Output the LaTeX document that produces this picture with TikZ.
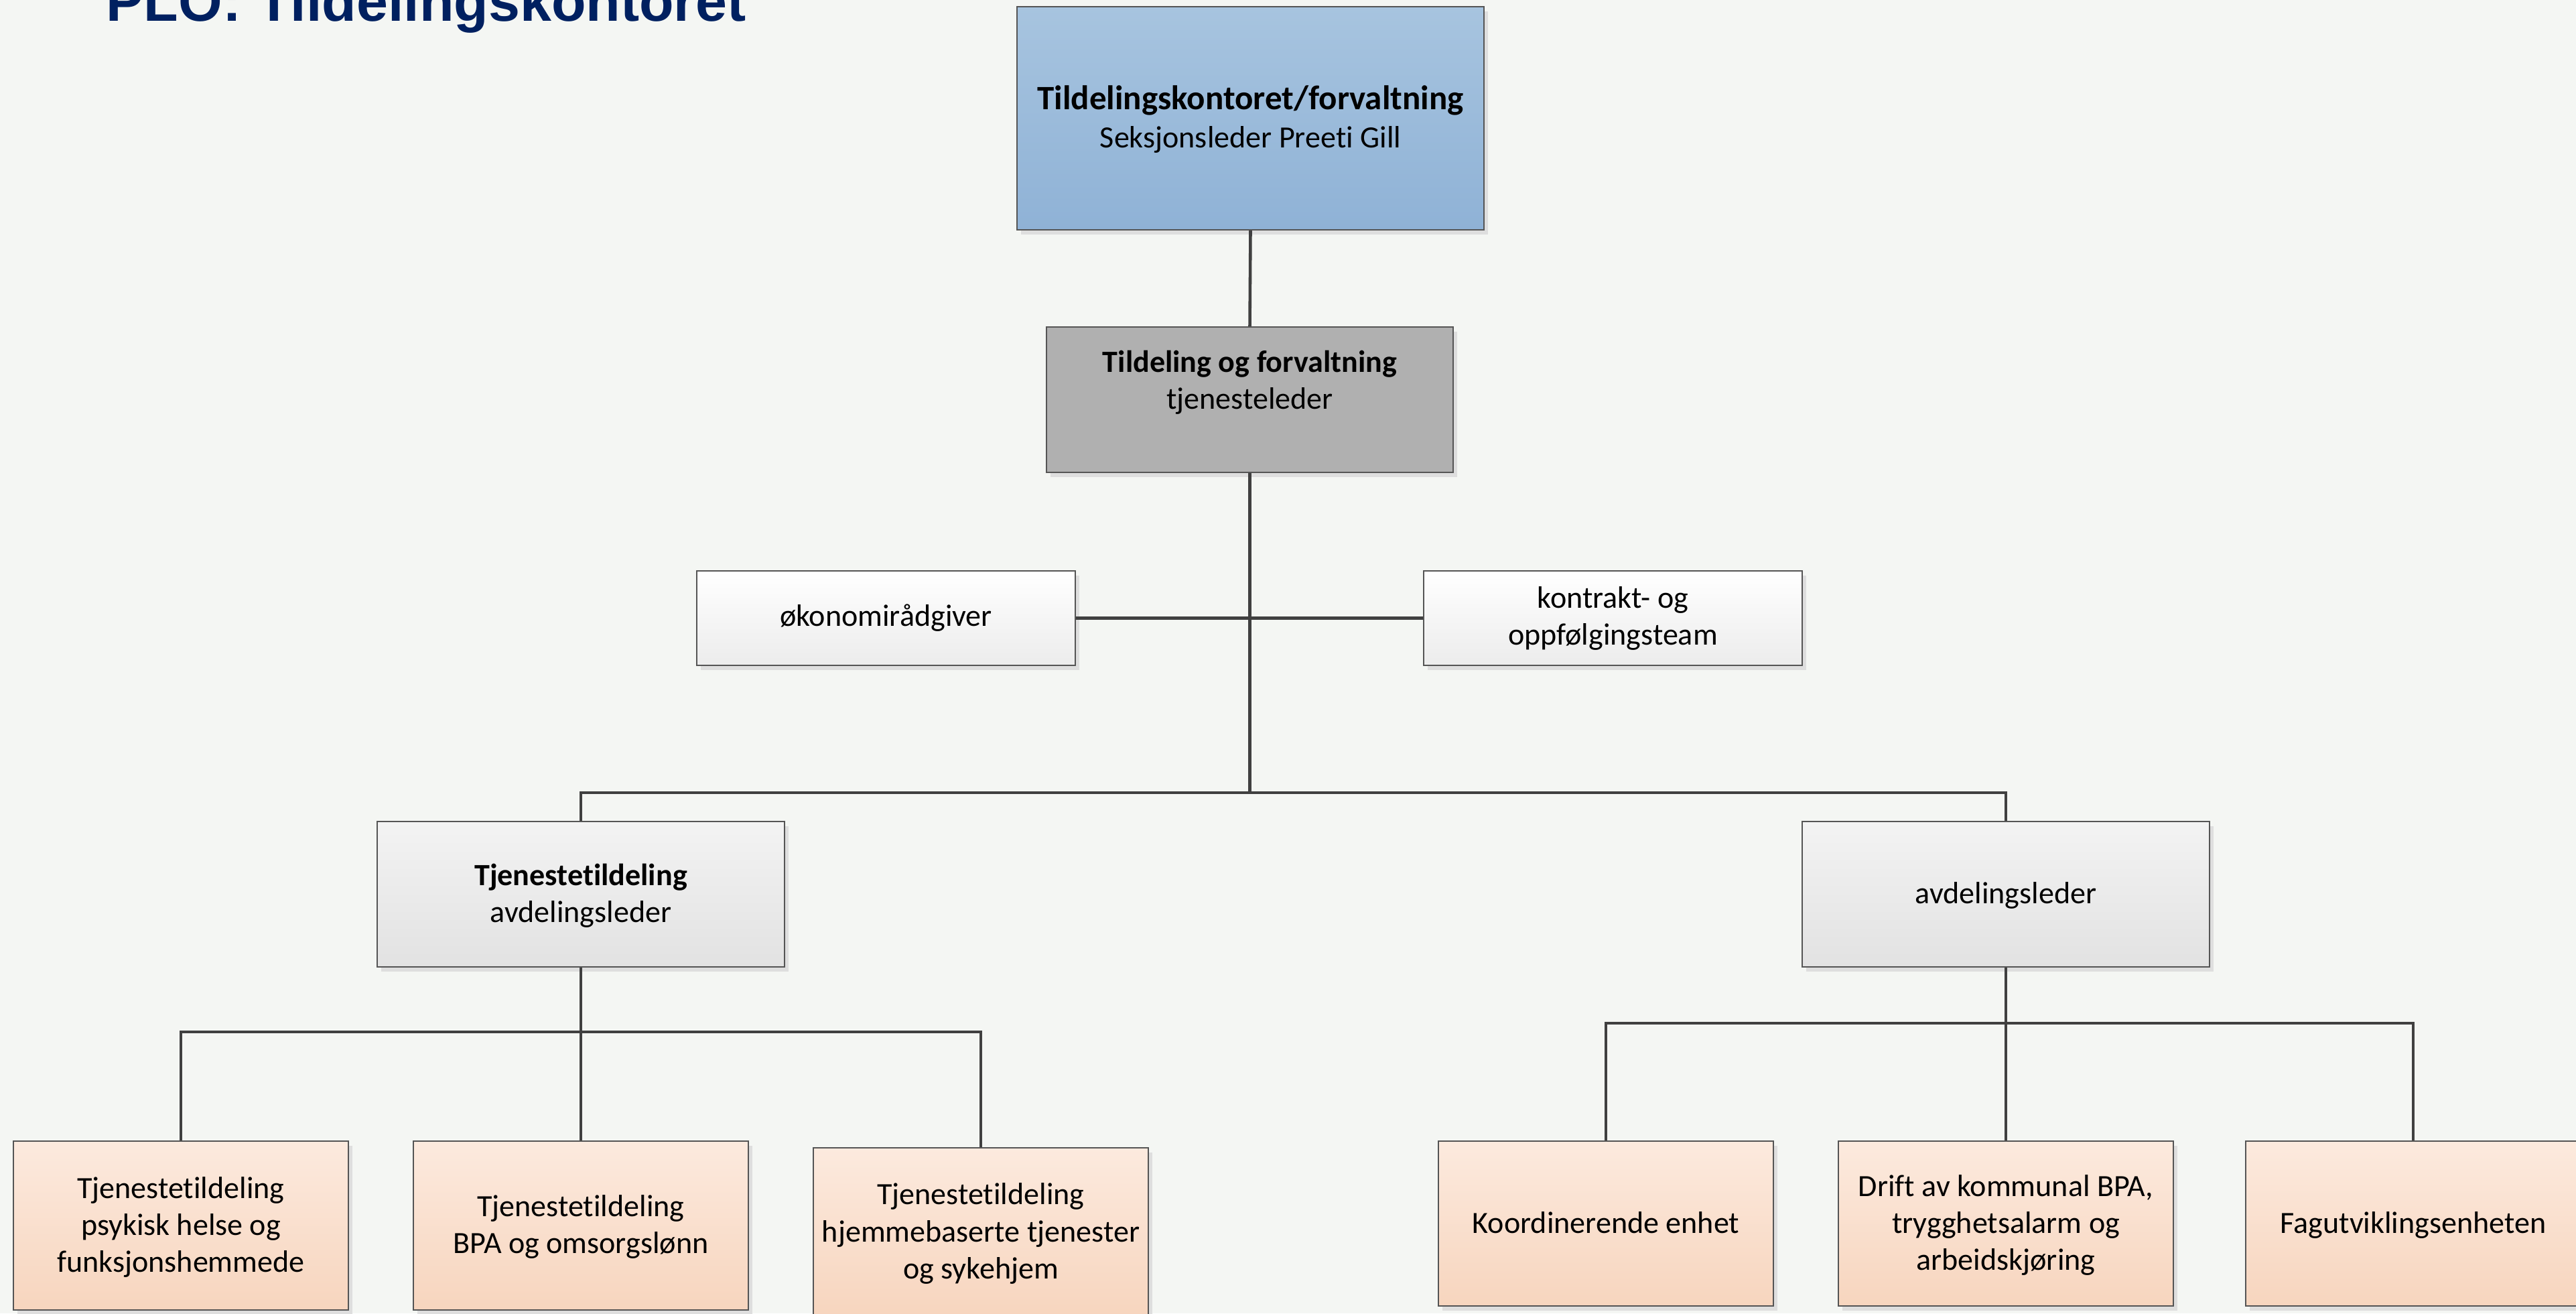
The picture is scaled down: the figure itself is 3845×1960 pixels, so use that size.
\documentclass[tikz,border=0pt]{standalone}
\usepackage{fontspec}
\setmainfont{Carlito}[Ligatures=NoCommon]
\newfontfamily\titlefont{Liberation Sans}
\usetikzlibrary{shadows}
\definecolor{bg}{RGB}{244,246,243}
\definecolor{titleblue}{RGB}{0,32,96}
\definecolor{linecol}{RGB}{64,64,64}
\definecolor{bordercol}{RGB}{85,85,85}
\definecolor{shadowcol}{RGB}{222,222,222}
\definecolor{blueTop}{RGB}{167,196,223}
\definecolor{blueBot}{RGB}{143,178,214}
\definecolor{grayfill}{RGB}{176,176,176}
\definecolor{whiteBot}{RGB}{236,236,236}
\definecolor{midTop}{RGB}{243,243,243}
\definecolor{midBot}{RGB}{226,226,226}
\definecolor{peachTop}{RGB}{252,234,222}
\definecolor{peachBot}{RGB}{247,213,190}
\begin{document}
\begin{tikzpicture}[x=0.01cm,y=-0.01cm,
  orgbox/.style={rectangle, draw=bordercol, line width=0.6pt, inner sep=0pt,
    drop shadow={shadow xshift=0.06cm, shadow yshift=-0.07cm, fill=shadowcol, opacity=1}},
  bluebox/.style={orgbox, top color=blueTop, bottom color=blueBot},
  graybox/.style={orgbox, fill=grayfill},
  whitebox/.style={orgbox, top color=white, bottom color=whiteBot},
  midbox/.style={orgbox, top color=midTop, bottom color=midBot},
  peachbox/.style={orgbox, top color=peachTop, bottom color=peachBot},
  txt/.style={anchor=base, inner sep=0pt, font=\fontsize{13.1}{15.7}\selectfont},
  btxt/.style={txt, font=\fontsize{13.1}{15.7}\selectfont\bfseries},
  conn/.style={draw=linecol, line width=1.3pt}]
\useasboundingbox (0,0) rectangle (3845,1960);
\clip (0,0) rectangle (3845,1960);
\fill[bg] (0,0) rectangle (3845,1960);

% title
\node[anchor=base west, inner sep=0pt, text=titleblue, font=\titlefont\fontsize{24}{28}\selectfont\bfseries] (title) at (158,31) {PLO: Tildelingskontoret};

% boxes
\node[bluebox, minimum width=6.97cm, minimum height=3.33cm] (top) at (1866.5,176.5) {};
\node[graybox, minimum width=6.07cm, minimum height=2.17cm] (gray) at (1865.5,596.5) {};
\node[whitebox, minimum width=5.65cm, minimum height=1.41cm] (oek) at (1322.5,922.5) {};
\node[whitebox, minimum width=5.65cm, minimum height=1.41cm] (kon) at (2407.5,922.5) {};
\node[midbox, minimum width=6.08cm, minimum height=2.17cm] (tj) at (867,1334.5) {};
\node[midbox, minimum width=6.08cm, minimum height=2.17cm] (av) at (2994,1334.5) {};
\node[peachbox, minimum width=5.0cm, minimum height=2.52cm] (b1) at (270,1829) {};
\node[peachbox, minimum width=5.0cm, minimum height=2.52cm] (b2) at (867,1829) {};
\node[peachbox, minimum width=5.0cm, minimum height=2.52cm] (b3) at (1464,1839) {};
\node[peachbox, minimum width=5.0cm, minimum height=2.46cm] (b4) at (2397,1826) {};
\node[peachbox, minimum width=5.0cm, minimum height=2.46cm] (b5) at (2994,1826) {};
\node[peachbox, minimum width=5.0cm, minimum height=2.46cm] (b6) at (3602,1826) {};

% texts
\node[txt, font=\fontsize{14.5}{17}\selectfont\bfseries] (topA) at (1866.5,163) {Tildelingskontoret/forvaltning};
\node[txt] (topB) at (1866.5,220) {Seksjonsleder Preeti Gill};
\node[btxt] (grayA) at (1865.5,555) {Tildeling og forvaltning};
\node[txt] (grayB) at (1865.5,610) {tjenesteleder};
\node[txt] (oekA) at (1322.5,934) {økonomirådgiver};
\node[txt] (konA) at (2407.5,907) {kontrakt- og};
\node[txt] (konB) at (2407.5,962) {oppfølgingsteam};
\node[btxt] (tjA) at (867,1321) {Tjenestetildeling};
\node[txt] (tjB) at (867,1376) {avdelingsleder};
\node[txt] (avA) at (2994,1348) {avdelingsleder};
\node[txt] (b1A) at (270,1788) {Tjenestetildeling};
\node[txt] (b1B) at (270,1843) {psykisk helse og};
\node[txt] (b1C) at (270,1898) {funksjonshemmede};
\node[txt] (b2A) at (867,1815) {Tjenestetildeling};
\node[txt] (b2B) at (867,1870) {BPA og omsorgslønn};
\node[txt] (b3A) at (1464,1797) {Tjenestetildeling};
\node[txt] (b3B) at (1464,1853) {hjemmebaserte tjenester};
\node[txt] (b3C) at (1464,1908) {og sykehjem};
\node[txt] (b4A) at (2397,1840) {Koordinerende enhet};
\node[txt] (b5A) at (2994,1785) {Drift av kommunal BPA,};
\node[txt] (b5B) at (2994,1840) {trygghetsalarm og};
\node[txt] (b5C) at (2994,1895) {arbeidskjøring};
\node[txt] (b6A) at (3602,1840) {Fagutviklingsenheten};

% connectors
\coordinate (busA) at (1865.5,1183);
\coordinate (busB) at (867,1540);
\coordinate (busC) at (2994,1527);
\draw[conn] (top.south) -- (gray.north);
\draw[conn] (gray.south) -- (busA);
\draw[conn] (oek.east) -- (kon.west);
\draw[conn] (tj.north) |- (busA) -| (av.north);
\draw[conn] (tj.south) -- (busB);
\draw[conn] (b1.north) |- (busB) -| (b3.north);
\draw[conn] (busB) -- (b2.north);
\draw[conn] (av.south) -- (busC);
\draw[conn] (b4.north) |- (busC) -| (b6.north);
\draw[conn] (busC) -- (b5.north);
\end{tikzpicture}
\end{document}
